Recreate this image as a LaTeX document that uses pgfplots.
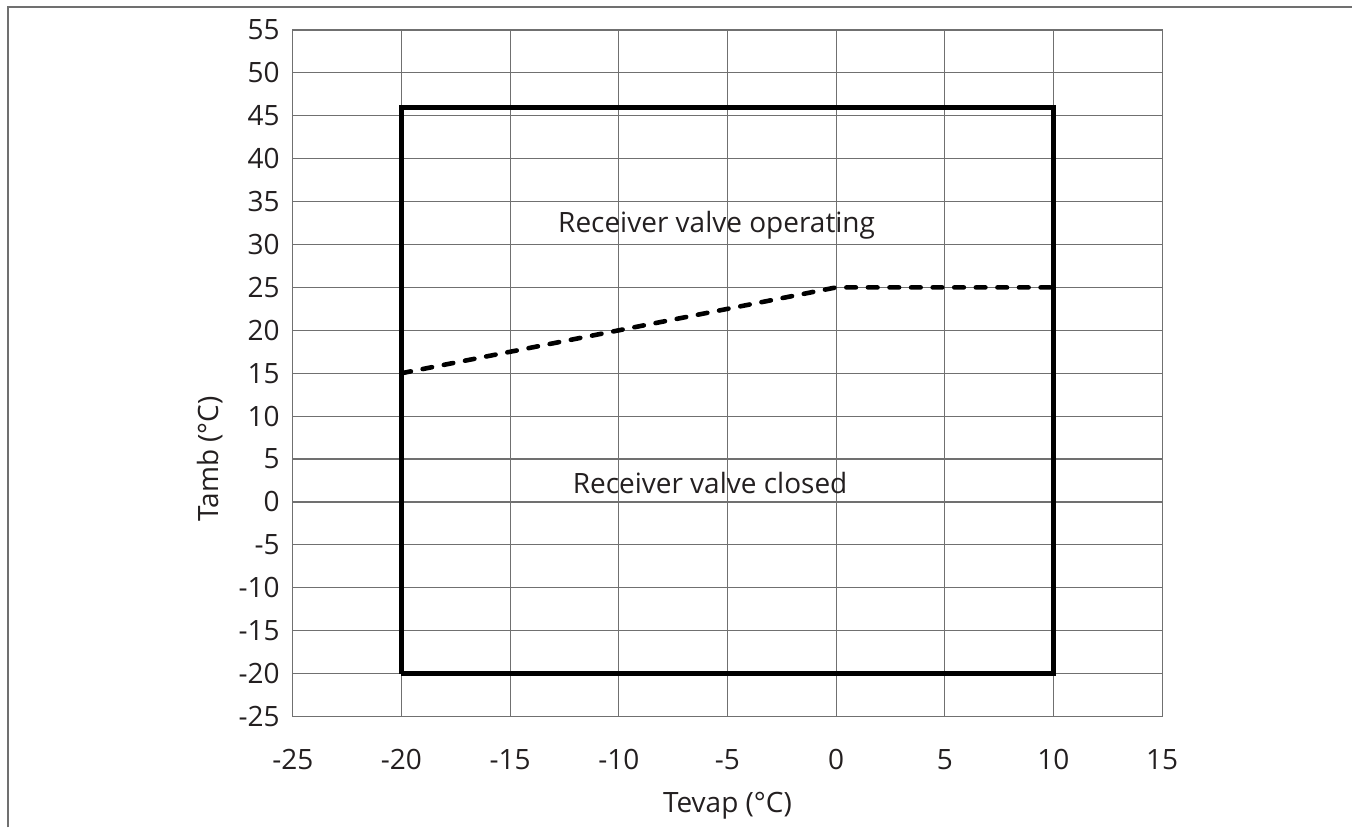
\documentclass[border=0pt]{standalone}
\usepackage{fontspec}
\setmainfont{Open Sans}
\usepackage{pgfplots}
\pgfplotsset{compat=1.18}

\definecolor{txt}{HTML}{231F20}
\definecolor{gridc}{HTML}{707070}

\begin{document}
\begin{tikzpicture}
\begin{axis}[
    name=ax,
    at={(0,0)}, anchor=south west,
    scale only axis,
    width=435pt, height=343.5pt,
    xmin=-25, xmax=15, ymin=-25, ymax=55,
    xtick={-25,-20,...,15},
    ytick={-25,-20,...,55},
    grid=major,
    major grid style={draw=gridc, line width=0.6pt},
    axis line style={draw=gridc, line width=0.6pt},
    major tick length=0pt,
    /pgf/number format/assume math mode=true,
    ticklabel style={font=\fontsize{14}{16}\selectfont, text=txt},
    xticklabel style={yshift=-13pt},
    yticklabel style={xshift=-3pt},
    label style={font=\fontsize{14}{16}\selectfont, text=txt},
    xlabel={Tevap (°C)},
    ylabel={Tamb (°C)},
    xlabel style={at={(axis description cs:0.5,0)}, anchor=center, yshift=-44.5pt},
    ylabel style={at={(axis description cs:-0.0954,0.375)}, anchor=center},
    clip=false,
]
% operating envelope
\addplot[black, line width=2.3pt, line join=miter] coordinates {
    (-20,-20) (-20,46) (10,46) (10,-20) (-20,-20)
};
% receiver valve switching line
\addplot[black, line width=2.3pt, line cap=round,
    dash pattern=on 4.8pt off 6pt] coordinates {
    (-20,15) (0,25) (10,25)
};
\node[font=\fontsize{14}{16}\selectfont, text=txt] at (axis cs:-5.5,32.3) {Receiver valve operating};
\node[font=\fontsize{14}{16}\selectfont, text=txt] at (axis cs:-5.8,2.15) {Receiver valve closed};
\end{axis}
% outer frame (top and left edges)
\draw[draw=gridc, line width=1pt] (-142.5pt,-55.5pt) -- (-142.5pt,355pt) -- (530pt,355pt);
\useasboundingbox (-146.5pt,-55.5pt) rectangle (530pt,358.5pt);
\end{tikzpicture}
\end{document}
